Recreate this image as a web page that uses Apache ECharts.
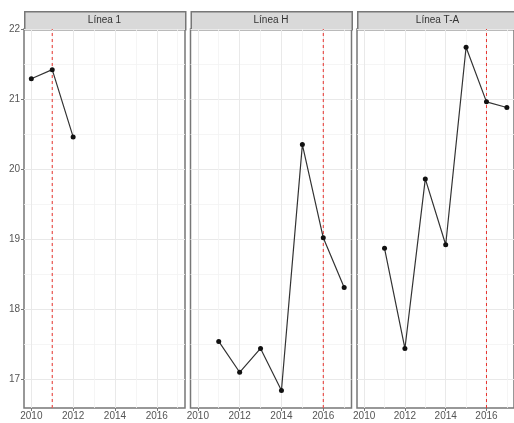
<!DOCTYPE html>
<html>
<head>
<meta charset="utf-8">
<script src="https://cdn.jsdelivr.net/npm/echarts@6/dist/echarts.min.js"></script>
<style>
  html, body { margin: 0; padding: 0; background: #fff; }
  #chart { width: 514px; height: 423px; }
</style>
</head>
<body>
<div id="chart"></div>
<script>
// Facet titles and yearly values per line (null = no observation)
const panels = ['Línea 1', 'Línea H', 'Línea T-A'];
const years = [2010, 2011, 2012, 2013, 2014, 2015, 2016, 2017];
const linea1 = [21.29, 21.42, 20.46, null, null, null, null, null];
const lineaH = [null, 17.54, 17.10, 17.44, 16.84, 20.35, 19.02, 18.31];
const lineaTA = [null, 18.87, 17.44, 19.86, 18.92, 21.74, 20.96, 20.88];
const cutYears = [2011, 2016, 2016];
const xTickLabels = [2010, 2012, 2014, 2016];
const yTickLabels = [17, 18, 19, 20, 21, 22];

const seriesValues = [linea1, lineaH, lineaTA];

// axis extents (shared by all facets)
const xMin = 2009.65, xMax = 2017.35;
const yMin = 16.59, yMax = 22.0;

// layout
const panelLefts = [24, 190.5, 357];
const panelWidth = 161;
const panelTop = 29;
const panelHeight = 379;
const stripTop = 11;

const font = '"Liberation Sans", Arial, sans-serif';
const textColor = '#555';
const borderColor = '#777';
const cutColor = '#e8332e';

const grids = [], xAxes = [], yAxes = [], series = [], graphics = [];

panels.forEach((name, i) => {
  grids.push({
    left: panelLefts[i], top: panelTop, width: panelWidth, height: panelHeight,
    show: true, borderColor: borderColor, borderWidth: 1.5, backgroundColor: '#fff',
    containLabel: false
  });
  xAxes.push({
    type: 'value', gridIndex: i, min: xMin, max: xMax, splitNumber: 4,
    axisLine: { show: false },
    axisTick: { show: true, length: 3, customValues: xTickLabels, lineStyle: { color: borderColor, width: 1 } },
    axisLabel: { show: true, customValues: xTickLabels, margin: 3, fontSize: 10, color: textColor, fontFamily: font, formatter: v => String(v) },
    splitLine: { show: true, lineStyle: { color: '#e9e9e9', width: 1 } },
    minorTick: { show: false, splitNumber: 2 },
    minorSplitLine: { show: true, lineStyle: { color: '#f3f3f3', width: 0.8 } }
  });
  yAxes.push({
    type: 'value', gridIndex: i, min: yMin, max: yMax,
    axisLine: { show: false },
    axisTick: { show: i === 0, length: 3, customValues: yTickLabels, lineStyle: { color: borderColor, width: 1 } },
    axisLabel: { show: i === 0, customValues: yTickLabels, margin: 4, fontSize: 10, color: textColor, fontFamily: font },
    splitLine: { show: true, lineStyle: { color: '#e9e9e9', width: 1 } },
    minorTick: { show: false, splitNumber: 2 },
    minorSplitLine: { show: true, lineStyle: { color: '#f3f3f3', width: 0.8 } }
  });

  // dashed reference year line, spanning the full panel height
  series.push({
    type: 'line', name: name + ' ref', xAxisIndex: i, yAxisIndex: i,
    data: [[cutYears[i], yMin], [cutYears[i], yMax]],
    symbol: 'none', silent: true, z: 2, animation: false,
    itemStyle: { color: cutColor },
    lineStyle: { color: cutColor, type: [3, 3], width: 1 }
  });

  const data = [];
  years.forEach((y, k) => {
    if (seriesValues[i][k] !== null) data.push([y, seriesValues[i][k]]);
  });
  series.push({
    type: 'line', name: name, xAxisIndex: i, yAxisIndex: i, data: data,
    symbol: 'circle', symbolSize: 5, z: 3,
    itemStyle: { color: '#111' },
    lineStyle: { color: '#333', width: 1.2 },
    animation: false
  });

  // facet strip
  graphics.push({
    type: 'rect', left: panelLefts[i], top: stripTop,
    shape: { width: panelWidth, height: panelTop - stripTop },
    style: { fill: '#d9d9d9', stroke: borderColor, lineWidth: 1.5 }
  });
  graphics.push({
    type: 'text', x: panelLefts[i] + panelWidth / 2, y: stripTop + (panelTop - stripTop) / 2,
    style: { text: name, fill: '#333', font: '10px ' + font, textAlign: 'center', textVerticalAlign: 'middle' }
  });
});

const chart = echarts.init(document.getElementById('chart'), null, { renderer: 'canvas' });
chart.setOption({
  animation: false,
  backgroundColor: '#fff',
  grid: grids,
  xAxis: xAxes,
  yAxis: yAxes,
  series: series,
  graphic: graphics
});
</script>
</body>
</html>
